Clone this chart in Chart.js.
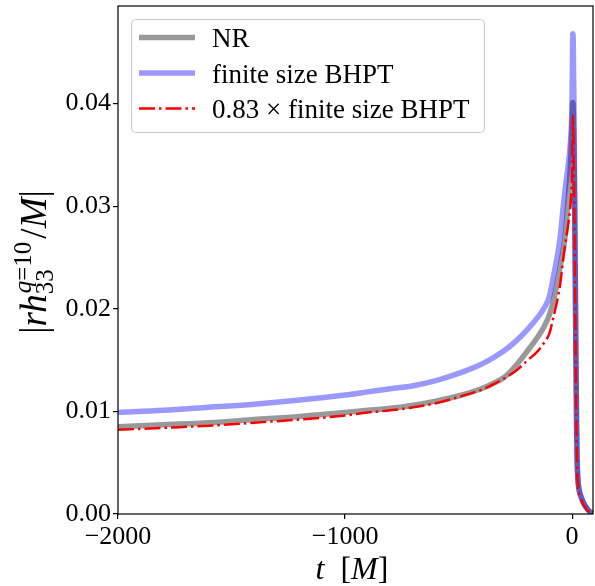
<!DOCTYPE html>
<html><head><meta charset="utf-8">
<script src="https://cdn.jsdelivr.net/npm/chart.js@4.4.1/dist/chart.umd.min.js"></script>
<style>html,body{margin:0;padding:0;background:#fff;}</style>
</head><body>
<canvas id="c" width="595" height="586"></canvas>
<script>
// ---- data ----
const timeM = [-2000,-1800,-1600,-1400,-1200,-1000,-900,-800,-700,-600,-500,-400,-350,-300,-250,-200,-150,-120,-100,-80,-60,-50,-40,-30,-20,-10,-5,-2,0,2,3,5,8,11,14,17,20,22,25,30,40,50,60,70,80,92];
const nrAmp = [0.0085,0.0087,0.0089,0.0092,0.0095,0.0099,0.0101,0.0103,0.0106,0.0110,0.0115,0.0122,0.0127,0.0133,0.0144,0.0158,0.0173,0.0184,0.0194,0.0210,0.0232,0.0244,0.0256,0.0272,0.0300,0.0330,0.0352,0.0372,0.0385,0.0398,0.0401,0.0395,0.0360,0.0300,0.0225,0.0145,0.0082,0.0053,0.0035,0.0024,0.0016,0.0011,0.0007,0.0004,0.0002,0.0001];
const bhptAmp = [0.0099,0.0101,0.0104,0.0107,0.0111,0.0116,0.0119,0.0122,0.0125,0.0130,0.0137,0.0146,0.0152,0.0159,0.0168,0.0179,0.0192,0.0202,0.0212,0.0234,0.0258,0.0275,0.0298,0.0318,0.0335,0.0355,0.0370,0.0385,0.0412,0.0452,0.0468,0.0460,0.0400,0.0320,0.0235,0.0150,0.0085,0.0055,0.0036,0.0025,0.0017,0.0011,0.0007,0.0004,0.0002,0.0001];
const scaledAmp = [0.0082,0.0084,0.0086,0.0089,0.0092,0.0096,0.0099,0.0101,0.0104,0.0108,0.0114,0.0121,0.0126,0.0132,0.0139,0.0149,0.0159,0.0168,0.0176,0.0194,0.0214,0.0228,0.0247,0.0264,0.0278,0.0295,0.0307,0.0320,0.0342,0.0375,0.0388,0.0382,0.0332,0.0266,0.0195,0.0125,0.0071,0.0046,0.0030,0.0021,0.0014,0.0009,0.0006,0.0003,0.0002,0.0001];
const seriesLabels = ['NR','finite size BHPT','0.83 \u00d7 finite size BHPT'];
const xTickValues = [-2000,-1000,0];
const yTickValues = [0,0.01,0.02,0.03,0.04];
const xRange = [-2000, 92];
const yRange = [0, 0.0495];

const SERIF = '"Liberation Serif", "Times New Roman", serif';
const toPts = (ys) => timeM.map((t,i)=>({x:t,y:ys[i]}));

const framePlugin = {
  id:'frame',
  afterDatasetsDraw(chart){
    const {ctx, chartArea:a} = chart;
    ctx.save();
    ctx.strokeStyle='#000'; ctx.lineWidth=1.2;
    ctx.strokeRect(a.left, a.top, a.right-a.left, a.bottom-a.top);
    ctx.restore();
  }
};

const legendPlugin = {
  id:'boxLegend',
  afterDraw(chart){
    const ctx = chart.ctx;
    ctx.save();
    ctx.beginPath();
    ctx.roundRect(131.5,19.5,353,113,4);
    ctx.fillStyle='rgba(255,255,255,0.8)'; ctx.fill();
    ctx.strokeStyle='#cccccc'; ctx.lineWidth=1; ctx.stroke();
    const rows=[37.5,73,108.5];
    chart.data.datasets.forEach((ds,i)=>{
      ctx.save();
      ctx.strokeStyle=ds.borderColor; ctx.lineWidth=ds.borderWidth;
      ctx.setLineDash(ds.borderDash||[]);
      ctx.lineCap='butt';
      ctx.beginPath(); ctx.moveTo(139,rows[i]); ctx.lineTo(195,rows[i]); ctx.stroke();
      ctx.restore();
      ctx.fillStyle='#000'; ctx.font='27px '+SERIF; ctx.textBaseline='alphabetic';
      ctx.fillText(ds.label, 212, rows[i]+9.5);
    });
    ctx.restore();
  }
};

const titlesPlugin = {
  id:'axisTitles',
  afterDraw(chart){
    const ctx = chart.ctx;
    ctx.save();
    ctx.fillStyle='#000'; ctx.textBaseline='alphabetic';
    // x title: t [M]
    const xb='32px '+SERIF, xbI='italic 32px '+SERIF;
    const xs=[['t',xbI],['  ',xb],['[',xb],['M',xbI],[']',xb]];
    let w=0; xs.forEach(([s,f])=>{ctx.font=f; w+=ctx.measureText(s).width;});
    let x=352-w/2;
    xs.forEach(([s,f])=>{ctx.font=f; ctx.fillText(s,x,579); x+=ctx.measureText(s).width;});
    // y title: |r h^{q=10}_{33} / M|
    const big='37px '+SERIF, bigI='italic 37px '+SERIF;
    ctx.translate(46,262); ctx.rotate(-Math.PI/2);
    const sm='25px '+SERIF, smI='italic 25px '+SERIF;
    const measure=(s,f)=>{ctx.font=f; return ctx.measureText(s).width;};
    const pre=[['|',big],['rh',bigI]];
    const supParts=[['q',smI],['=10',sm]];
    const subParts=[['33',sm]];
    const post=[['/',big],['M',bigI],['|',big]];
    const wPre=pre.reduce((a,[s,f])=>a+measure(s,f),0);
    const wSup=supParts.reduce((a,[s,f])=>a+measure(s,f),0);
    const wSub=subParts.reduce((a,[s,f])=>a+measure(s,f),0);
    const wPost=post.reduce((a,[s,f])=>a+measure(s,f),0);
    const total=wPre+Math.max(wSup,wSub)+4+wPost;
    let px=-total/2;
    pre.forEach(([s,f])=>{ctx.font=f; ctx.fillText(s,px,0); px+=ctx.measureText(s).width;});
    let sx=px+1;
    supParts.forEach(([s,f])=>{ctx.font=f; ctx.fillText(s,sx,-15); sx+=ctx.measureText(s).width;});
    let bx=px;
    subParts.forEach(([s,f])=>{ctx.font=f; ctx.fillText(s,bx,7); bx+=ctx.measureText(s).width;});
    px+=Math.max(wSup,wSub)+4;
    post.forEach(([s,f])=>{ctx.font=f; ctx.fillText(s,px,0); px+=ctx.measureText(s).width;});
    ctx.restore();
  }
};

new Chart(document.getElementById('c'),{
  type:'line',
  data:{datasets:[
    {label:seriesLabels[0], data:toPts(nrAmp), borderColor:'rgba(0,0,0,0.4)', borderWidth:5.5, order:3},
    {label:seriesLabels[1], data:toPts(bhptAmp), borderColor:'rgba(0,0,255,0.4)', borderWidth:5.5, order:2},
    {label:seriesLabels[2], data:toPts(scaledAmp), borderColor:'#ff0000', borderWidth:2.5, borderDash:[16,4,2.5,4], order:1}
  ]},
  options:{
    responsive:false, devicePixelRatio:1, animation:false,
    elements:{point:{radius:0,hoverRadius:0}, line:{tension:0, cubicInterpolationMode:'monotone', borderJoinStyle:'round', borderCapStyle:'butt', fill:false}},
    layout:{autoPadding:false, padding:{top:6,right:2,left:0,bottom:0}},
    plugins:{legend:{display:false}, tooltip:{enabled:false}},
    scales:{
      x:{type:'linear', min:xRange[0], max:xRange[1],
        afterBuildTicks:(ax)=>{ax.ticks=xTickValues.map(v=>({value:v}));},
        afterFit:(ax)=>{ax.height=72; ax.paddingLeft=0; ax.paddingRight=0;},
        border:{display:false},
        grid:{drawOnChartArea:false, drawTicks:true, tickLength:5, color:'#000', lineWidth:1.2},
        ticks:{autoSkip:false, maxRotation:0, padding:3, color:'#000', font:{family:SERIF,size:26},
          callback:(v)=> v<0 ? '\u2212'+Math.abs(v) : String(v)}
      },
      y:{type:'linear', min:yRange[0], max:yRange[1],
        afterBuildTicks:(ax)=>{ax.ticks=yTickValues.map(v=>({value:v}));},
        afterFit:(ax)=>{ax.width=118; ax.paddingTop=0; ax.paddingBottom=0;},
        border:{display:false},
        grid:{drawOnChartArea:false, drawTicks:true, tickLength:5, color:'#000', lineWidth:1.2},
        ticks:{autoSkip:false, padding:2, color:'#000', font:{family:SERIF,size:26},
          callback:(v)=> Number(v).toFixed(2)}
      }
    }
  },
  plugins:[framePlugin, legendPlugin, titlesPlugin]
});
</script>
</body></html>
